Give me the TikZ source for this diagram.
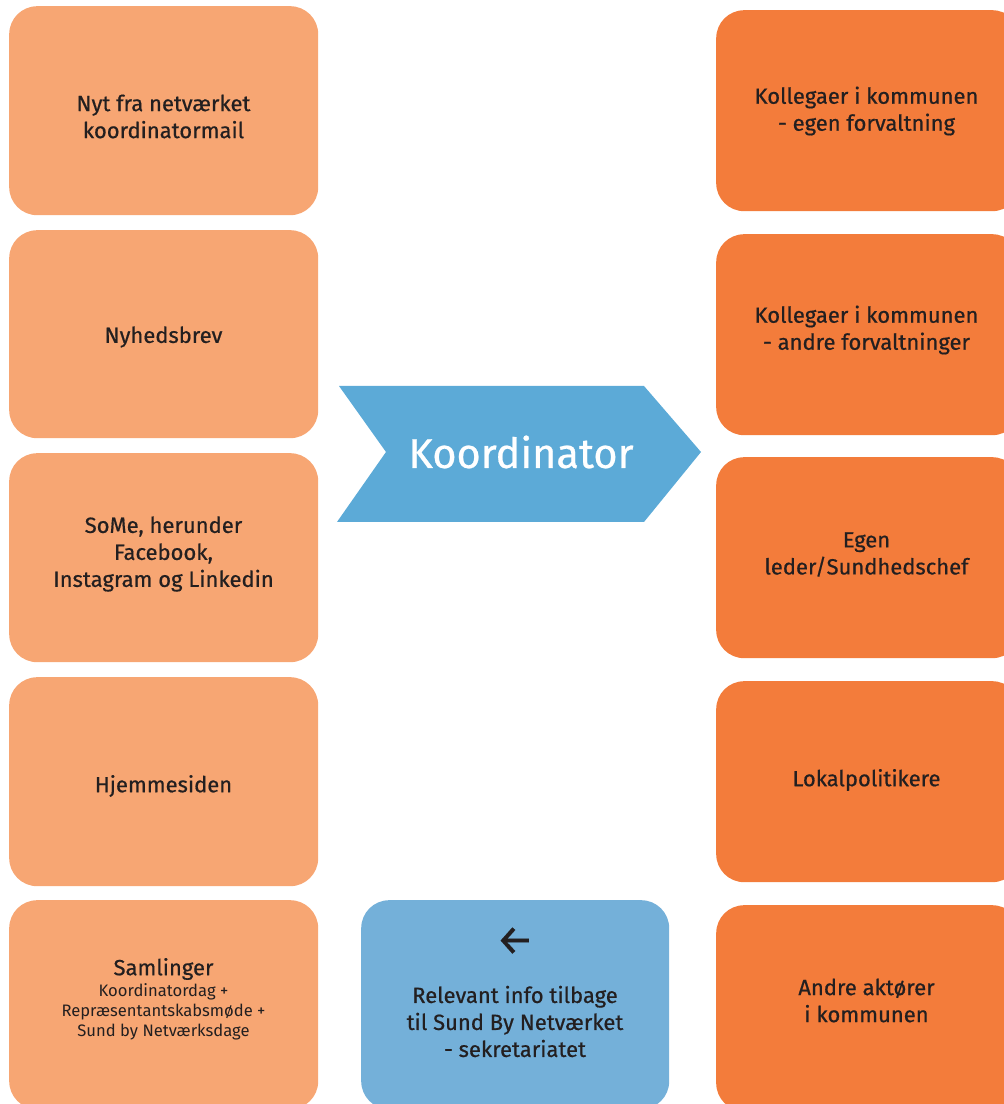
\documentclass[tikz,border=0pt]{standalone}
\usepackage{fontspec}
\setmainfont{Fira Sans}[FakeBold=0.6]
\newfontfamily\plainfont{Fira Sans}
\definecolor{lightor}{HTML}{F7A673}
\definecolor{darkor}{HTML}{F37C3B}
\definecolor{arrowblue}{HTML}{5CAAD7}
\definecolor{boxblue}{HTML}{74B0D9}
\definecolor{txt}{HTML}{231F20}
\tikzset{
  tile/.style={rectangle, rounded corners=28pt, inner sep=0pt, draw=none, anchor=north west, minimum width=309pt, minimum height=209pt},
  ltile/.style={tile, fill=lightor},
  rtile/.style={tile, fill=darkor, minimum width=304pt, minimum height=201pt},
  btile/.style={tile, fill=boxblue, minimum width=308pt},
  lbl/.style={text=txt, align=center, inner sep=0pt, font=\fontsize{22}{27}\selectfont},
  small/.style={text=txt, align=center, inner sep=0pt, font=\plainfont\fontsize{16.6}{20}\selectfont}
}
\begin{document}
\begin{tikzpicture}[x=1pt,y=1pt]
\useasboundingbox (0,0) rectangle (1004,1104);
\clip (0,0) rectangle (1004,1104);
% left column
\node[ltile] (l1) at (9,1098) {};
\node[ltile, minimum height=208pt] (l2) at (9,874) {};
\node[ltile] (l3) at (9,651) {};
\node[ltile] (l4) at (9,427) {};
\node[ltile] (l5) at (9,204) {};
% right column
\node[rtile] (r1) at (716,1094) {};
\node[rtile] (r2) at (716,870) {};
\node[rtile] (r3) at (716,647) {};
\node[rtile] (r4) at (716,423) {};
\node[rtile, minimum height=206pt] (r5) at (716,199) {};
% blue box
\node[btile] (b1) at (361,204) {};
% arrow
\fill[arrowblue] (339,718) -- (644,718) -- (701,652) -- (644,582) -- (337,582) -- (386,652) -- cycle;
\node[text=white, inner sep=0pt, font=\fontsize{41.5}{48}\selectfont] (koord) at (521,652) {Koordinator};
% left texts
\node[lbl] (t1) at (163.5,987.5) {Nyt fra netværket\\koordinatormail};
\node[lbl] (t2) at (163.5,767) {Nyhedsbrev};
\node[lbl] (t3) at (163.5,550) {SoMe, herunder\\Facebook,\\Instagram og Linkedin};
\node[lbl] (t4) at (163.5,318) {Hjemmesiden};
\node[lbl] (t5) at (163.5,135) {Samlinger};
\node[small] (t5s) at (163.5,92) {Koordinatordag +\\Repræsentantskabsmøde +\\Sund by Netværksdage};
% blue texts
\node[text=txt, inner sep=0pt, font=\fontsize{42}{46}\selectfont] (barrow) at (515,163) {←};
\node[lbl] (tb) at (515,82.5) {Relevant info tilbage\\til Sund By Netværket\\- sekretariatet};
% right texts
\node[lbl] (s1) at (866.5,993) {Kollegaer i kommunen\\- egen forvaltning};
\node[lbl] (s2) at (866.5,774) {Kollegaer i kommunen\\- andre forvaltninger};
\node[lbl] (s3) at (866.5,549.5) {Egen\\leder/Sundhedschef};
\node[lbl] (s4) at (866.5,324) {Lokalpolitikere};
\node[lbl] (s5) at (866.5,103.5) {Andre aktører\\i kommunen};
\end{tikzpicture}
\end{document}
